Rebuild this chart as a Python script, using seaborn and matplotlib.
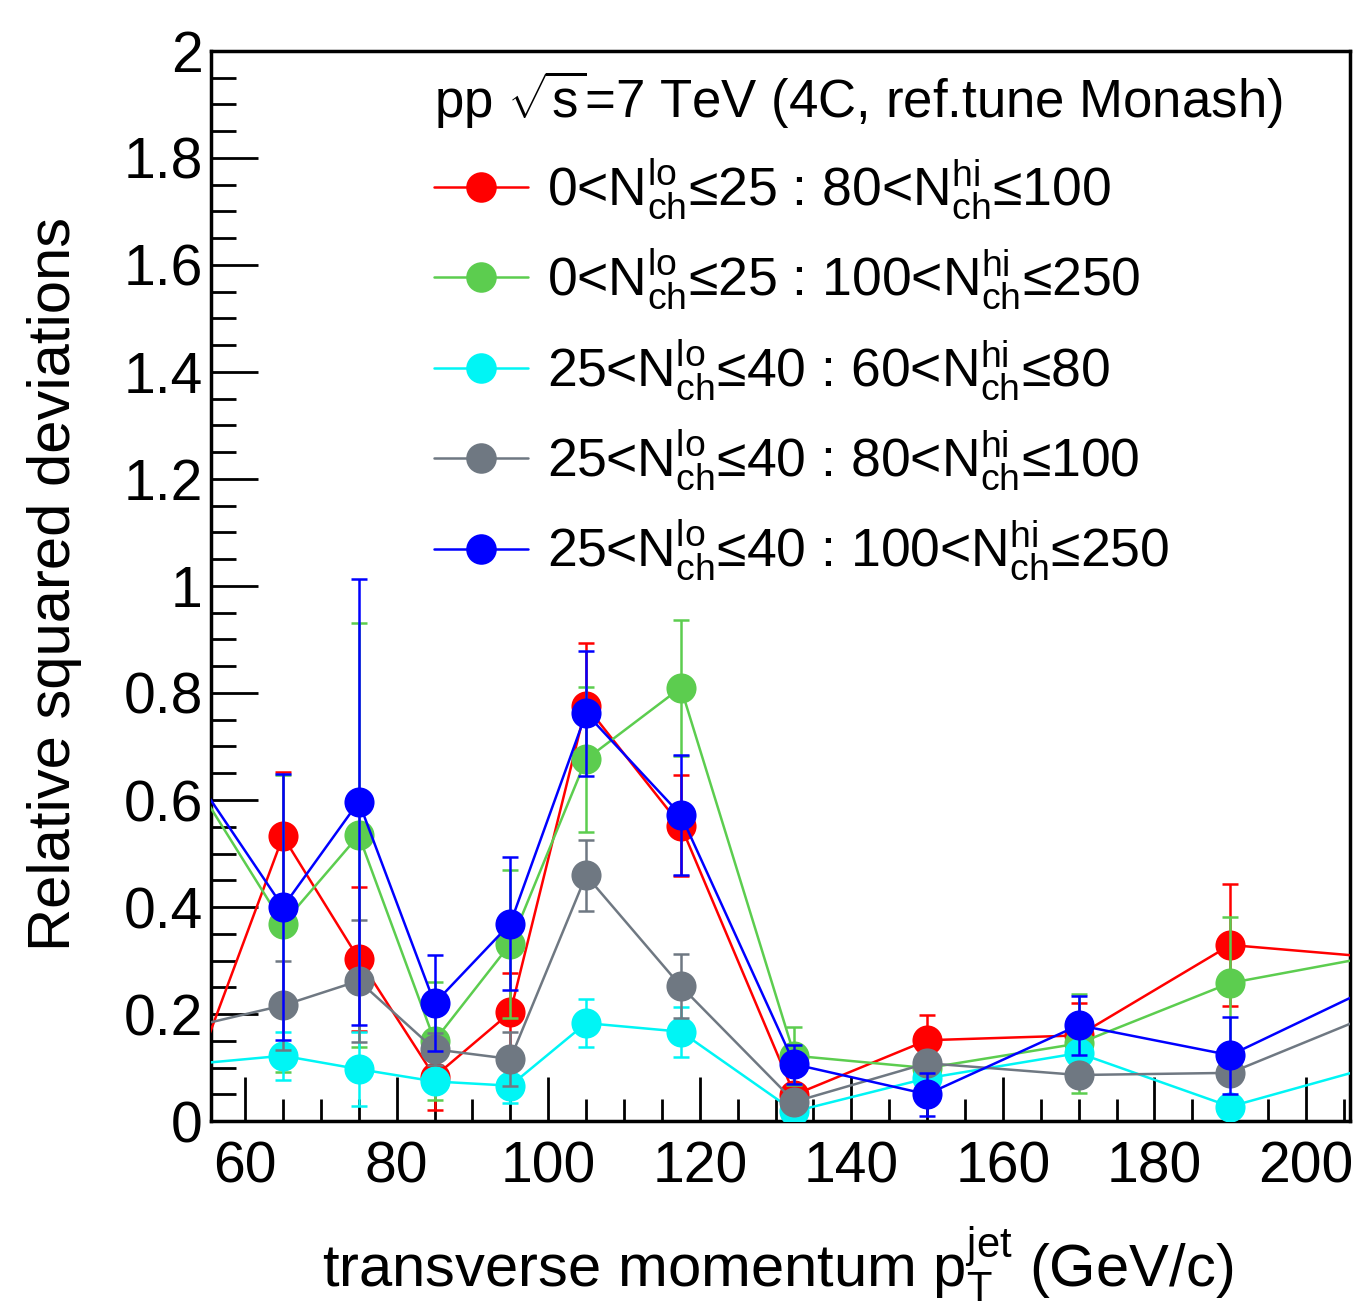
import numpy as np
import pandas as pd
import matplotlib
matplotlib.use("Agg")
import matplotlib.pyplot as plt
from matplotlib import font_manager
from matplotlib.lines import Line2D
from matplotlib.ticker import MultipleLocator
import seaborn as sns

# jet pT bin centres (GeV/c); first and last sit outside the frame, they only feed the clipped lines
pt = [55, 65, 75, 85, 95, 105, 117.5, 132.5, 150, 170, 190, 225]

red_y = [0.151, 0.532, 0.303, 0.083, 0.203, 0.776, 0.552, 0.049, 0.151, 0.160, 0.329, 0.287]
green_y = [0.596, 0.369, 0.534, 0.150, 0.331, 0.676, 0.810, 0.122, 0.099, 0.145, 0.258, 0.350]
cyan_y = [0.109, 0.122, 0.097, 0.074, 0.066, 0.183, 0.167, 0.018, 0.080, 0.127, 0.027, 0.165]
gray_y = [0.183, 0.216, 0.262, 0.134, 0.116, 0.459, 0.252, 0.036, 0.108, 0.086, 0.090, 0.293]
blue_y = [0.610, 0.400, 0.597, 0.220, 0.369, 0.762, 0.572, 0.106, 0.050, 0.179, 0.123, 0.360]

# symmetric errors, only for the points inside the frame
red_err = [0.120, 0.135, 0.063, 0.074, 0.117, 0.094, 0.020, 0.047, 0.060, 0.114]
green_err = [0.278, 0.396, 0.110, 0.139, 0.136, 0.127, 0.054, 0.030, 0.093, 0.123]
cyan_err = [0.045, 0.069, 0.020, 0.032, 0.045, 0.047, 0.010, 0.020, 0.020, 0.010]
gray_err = [0.084, 0.114, 0.030, 0.050, 0.067, 0.060, 0.010, 0.020, 0.020, 0.020]
blue_err = [0.248, 0.417, 0.090, 0.124, 0.117, 0.112, 0.037, 0.040, 0.055, 0.072]

labels = [
    r"0<$\mathrm{N}_{\mathrm{ch}}^{\mathrm{lo}}$≤25 : 80<$\mathrm{N}_{\mathrm{ch}}^{\mathrm{hi}}$≤100",
    r"0<$\mathrm{N}_{\mathrm{ch}}^{\mathrm{lo}}$≤25 : 100<$\mathrm{N}_{\mathrm{ch}}^{\mathrm{hi}}$≤250",
    r"25<$\mathrm{N}_{\mathrm{ch}}^{\mathrm{lo}}$≤40 : 60<$\mathrm{N}_{\mathrm{ch}}^{\mathrm{hi}}$≤80",
    r"25<$\mathrm{N}_{\mathrm{ch}}^{\mathrm{lo}}$≤40 : 80<$\mathrm{N}_{\mathrm{ch}}^{\mathrm{hi}}$≤100",
    r"25<$\mathrm{N}_{\mathrm{ch}}^{\mathrm{lo}}$≤40 : 100<$\mathrm{N}_{\mathrm{ch}}^{\mathrm{hi}}$≤250",
]
colors = ["#ff0000", "#5ccd4f", "#00f5f5", "#6f7882", "#0000ff"]
series = [red_y, green_y, cyan_y, gray_y, blue_y]
errors = [red_err, green_err, cyan_err, gray_err, blue_err]

sns.set_theme(style="white")
names = {f.name for f in font_manager.fontManager.ttflist}
narrow = "Liberation Sans Narrow" if "Liberation Sans Narrow" in names else "Liberation Sans"
plt.rcParams["font.family"] = ["Liberation Sans", "DejaVu Sans"]
plt.rcParams["text.color"] = "black"
plt.rcParams["mathtext.fontset"] = "custom"
plt.rcParams["mathtext.rm"] = "Liberation Sans"
plt.rcParams["mathtext.it"] = "Liberation Sans"
plt.rcParams["mathtext.sf"] = "Liberation Sans"

fig = plt.figure(figsize=(13.55, 13.07), dpi=100)
ax = fig.add_axes([0.1557, 0.1423, 0.8406, 0.8187])

for ys, errs, col in zip(series, errors, colors):
    df = pd.DataFrame({"pt": pt, "val": ys})
    inside = df.iloc[1:-1]
    sns.lineplot(data=df, x="pt", y="val", color=col, lw=1.8, sort=False,
                 estimator=None, legend=False, ax=ax, zorder=3)
    ax.errorbar(inside["pt"], inside["val"], yerr=errs, fmt="none", ecolor=col,
                elinewidth=1.8, capsize=5.5, capthick=1.8, zorder=3)
    sns.scatterplot(data=inside, x="pt", y="val", color=col, s=470, linewidth=0,
                    legend=False, ax=ax, zorder=3)

ax.set_xlim(55.5, 205.8)
ax.set_ylim(0, 2)
ax.xaxis.set_major_locator(MultipleLocator(20))
ax.xaxis.set_minor_locator(MultipleLocator(5))
ax.yaxis.set_major_locator(MultipleLocator(0.2))
ax.yaxis.set_minor_locator(MultipleLocator(0.05))
ax.yaxis.set_major_formatter(matplotlib.ticker.FuncFormatter(lambda v, p: f"{v:g}"))
ax.tick_params(axis="both", which="both", direction="in", color="black", width=2,
               labelsize=41, labelcolor="black", bottom=True, left=True,
               top=False, right=False)
ax.tick_params(axis="x", which="major", length=32, pad=14)
ax.tick_params(axis="x", which="minor", length=16)
ax.tick_params(axis="y", which="major", length=34, pad=6)
ax.tick_params(axis="y", which="minor", length=18)
for sp in ax.spines.values():
    sp.set_color("black")
    sp.set_linewidth(2.5)
ax.set_xlabel("")
ax.set_ylabel("")

fig.text(0.574, 0.032, r"transverse momentum $\mathrm{p}_{\mathrm{T}}^{\mathrm{jet}}$ (GeV/c)",
         ha="center", va="center", fontsize=43, color="black", family=[narrow, "DejaVu Sans"])
fig.text(0.040, 0.553, "Relative squared deviations", rotation=90, color="black",
         ha="center", va="center", fontsize=43, family=[narrow, "DejaVu Sans"])

handles = [Line2D([0], [0], color=c, lw=1.8, marker="o", markersize=22, markeredgewidth=0)
           for c in colors]
leg = ax.legend(handles, labels, title=r"pp $\sqrt{s}$=7 TeV (4C, ref.tune Monash)",
                loc="upper left", bbox_to_anchor=(0.196, 0.983), frameon=False,
                fontsize=38.5, title_fontsize=38, alignment="left", borderpad=0,
                borderaxespad=0, handlelength=1.75, handletextpad=0.35, labelspacing=0.47,
                labelcolor="black")
leg.get_title().set_color("black")

fig.savefig("out.png", dpi=100)
